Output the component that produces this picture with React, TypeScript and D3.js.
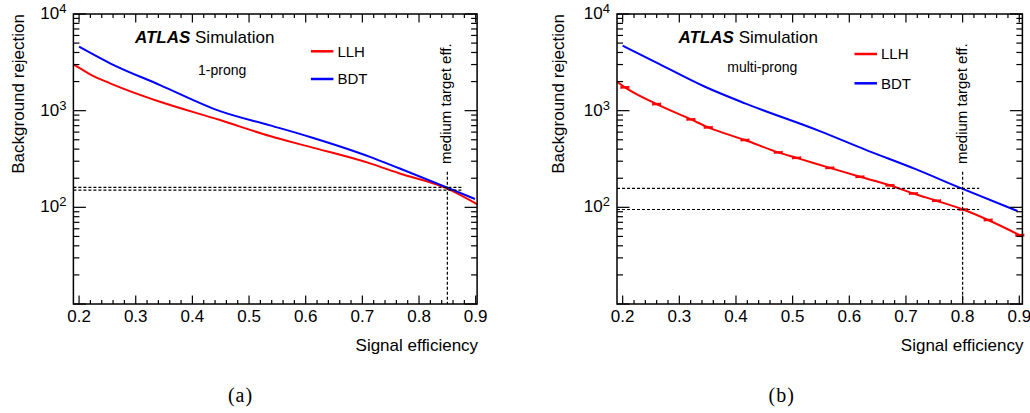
import React from "react";
import * as d3 from "d3";

// ---------- data ----------
// (a) 1-prong
const effLLH1 = [0.19, 0.2018, 0.2194, 0.2547, 0.343, 0.4488, 0.537, 0.6076, 0.7135, 0.766, 0.849, 0.9023];
const rejLLH1 = [3015, 2742, 2380, 1919, 1236, 800, 546, 422, 285, 224, 157, 108];
const effBDT1 = [0.2, 0.2547, 0.343, 0.4488, 0.537, 0.6076, 0.7135, 0.766, 0.849, 0.8988];
const rejBDT1 = [4584, 3090, 1841, 990, 705, 535, 333, 252, 161, 122];
// (b) multi-prong
const effLLH3 = [0.19, 0.204, 0.26, 0.3205, 0.351, 0.4158, 0.4746, 0.507, 0.5657, 0.6188, 0.6717, 0.713, 0.754, 0.801, 0.845, 0.901];
const rejLLH3 = [1991, 1742, 1170, 813, 671, 497, 370, 325, 256, 207, 169, 139, 117, 95, 74, 51.5];
const effBDT3 = [0.2, 0.257, 0.3453, 0.4158, 0.548, 0.628, 0.716, 0.798, 0.897];
const rejBDT3 = [4700, 3200, 1767, 1191, 615, 396, 250, 157, 91.5];

// working points (medium target efficiency) and reference rejections
const targetEff = [0.85, 0.8];
const targetTop = [233, 233];
const refRejA = [161, 151];
const refRejB = [157, 95];
const refEndA = 0.877;
const refEndB = 0.8293;

const xMajor = [0.2, 0.3, 0.4, 0.5, 0.6, 0.7, 0.8, 0.9];
const xLabels = ["0.2", "0.3", "0.4", "0.5", "0.6", "0.7", "0.8", "0.9"];
const yMajor = [10, 100, 1000, 10000];
const yLabelExp = ["", "2", "3", "4"];

const panelLabels = ["(a)", "(b)"];
const regionLabels = ["1-prong", "multi-prong"];
const seriesNames = ["LLH", "BDT"];
const seriesColors = ["#ff0000", "#0000ff"];

const SANS = "'Liberation Sans', Arial, Helvetica, sans-serif";
const SERIF = "'Liberation Serif', 'Times New Roman', serif";

type PanelProps = {
  xr: [number, number];
  xd: [number, number];
  llhE: number[];
  llhR: number[];
  bdtE: number[];
  bdtR: number[];
  markers: boolean;
  target: number;
  tTop: number;
  refs: number[];
  refEnd: number;
  region: string;
  regionX: number;
  regionY: number;
  legY: [number, number];
  label: string;
  labelX: number;
  yTitleX: number;
};

function Panel(p: PanelProps) {
  const top = 14;
  const bottom = 304;
  const x = d3.scaleLinear().domain(p.xd).range(p.xr);
  const y = d3.scaleLog().domain([10, 10000]).range([bottom, top]);
  const line = d3
    .line<[number, number]>()
    .x((d) => x(d[0]))
    .y((d) => y(d[1]))
    .curve(d3.curveMonotoneX);
  const llh: [number, number][] = p.llhE.map((e, i) => [e, p.llhR[i]]);
  const bdt: [number, number][] = p.bdtE.map((e, i) => [e, p.bdtR[i]]);
  const [L, R] = p.xr;

  const xMinor: number[] = [];
  for (let v = 0.2; v <= p.xd[1] + 1e-9; v += 0.02) {
    const r = Math.round(v * 100) / 100;
    if (Math.abs(r * 10 - Math.round(r * 10)) > 1e-6) xMinor.push(r);
  }
  const yMinor: number[] = [];
  for (const dec of [10, 100, 1000]) for (let k = 2; k <= 9; k++) yMinor.push(k * dec);

  const ax = "#000";
  return (
    <g fontFamily={SANS}>
      {/* curves */}
      <path d={line(llh) || ""} fill="none" stroke={seriesColors[0]} strokeWidth={2} />
      <path d={line(bdt) || ""} fill="none" stroke={seriesColors[1]} strokeWidth={2} />
      {p.markers &&
        llh.slice(1).map((d, i) => (
          <g key={i} stroke={seriesColors[0]}>
            <line x1={x(d[0]) - 4} x2={x(d[0]) + 4} y1={y(d[1])} y2={y(d[1])} strokeWidth={2.5} />
            <line x1={x(d[0]) - 4} x2={x(d[0]) - 4} y1={y(d[1]) - 1.5} y2={y(d[1]) + 1.5} strokeWidth={1} />
            <line x1={x(d[0]) + 4} x2={x(d[0]) + 4} y1={y(d[1]) - 1.5} y2={y(d[1]) + 1.5} strokeWidth={1} />
          </g>
        ))}
      {/* reference lines */}
      <line x1={x(p.target)} x2={x(p.target)} y1={y(p.tTop)} y2={bottom} stroke="#000" strokeWidth={1.2} strokeDasharray="3,2" />
      {p.refs.map((r, i) => (
        <line key={i} x1={L} x2={x(p.refEnd)} y1={y(r)} y2={y(r)} stroke="#000" strokeWidth={1.2} strokeDasharray="3,2" />
      ))}
      <text transform={`translate(${x(p.target) + 4},164) rotate(-90)`} fontSize={15}>
        medium target eff.
      </text>
      {/* frame */}
      <rect x={L} y={top} width={R - L} height={bottom - top} fill="none" stroke={ax} strokeWidth={1.5} />
      {/* x ticks */}
      {xMajor.map((v, i) => (
        <g key={"xm" + i}>
          <line x1={x(v)} x2={x(v)} y1={bottom} y2={bottom - 8.5} stroke={ax} strokeWidth={1.2} />
          <line x1={x(v)} x2={x(v)} y1={top} y2={top + 8.5} stroke={ax} strokeWidth={1.2} />
          <text x={x(v)} y={322} fontSize={17} textAnchor="middle">
            {xLabels[i]}
          </text>
        </g>
      ))}
      {xMinor.map((v, i) => (
        <g key={"xn" + i}>
          <line x1={x(v)} x2={x(v)} y1={bottom} y2={bottom - 4} stroke={ax} strokeWidth={1.2} />
          <line x1={x(v)} x2={x(v)} y1={top} y2={top + 4} stroke={ax} strokeWidth={1.2} />
        </g>
      ))}
      {/* y ticks */}
      {yMajor.map((v, i) => (
        <g key={"ym" + i}>
          <line x1={L} x2={L + 12.5} y1={y(v)} y2={y(v)} stroke={ax} strokeWidth={1.2} />
          <line x1={R} x2={R - 12.5} y1={y(v)} y2={y(v)} stroke={ax} strokeWidth={1.2} />
          {yLabelExp[i] && (
            <text x={L - 7} y={y(v) + 5} fontSize={17} textAnchor="end">
              10
              <tspan dy={-6} fontSize={13}>
                {yLabelExp[i]}
              </tspan>
            </text>
          )}
        </g>
      ))}
      {yMinor.map((v, i) => (
        <g key={"yn" + i}>
          <line x1={L} x2={L + 6} y1={y(v)} y2={y(v)} stroke={ax} strokeWidth={1.2} />
          <line x1={R} x2={R - 6} y1={y(v)} y2={y(v)} stroke={ax} strokeWidth={1.2} />
        </g>
      ))}
      {/* axis titles */}
      <text x={R + 1} y={350.5} fontSize={17} textAnchor="end">
        Signal efficiency
      </text>
      <text transform={`translate(${p.yTitleX},14) rotate(-90)`} fontSize={17} textAnchor="end">
        Background rejection
      </text>
      {/* labels */}
      <text x={L + 61.5} y={43} fontSize={17}>
        <tspan fontWeight="bold" fontStyle="italic">
          ATLAS
        </tspan>{" "}
        Simulation
      </text>
      <text x={p.regionX} y={p.regionY} fontSize={14}>
        {p.region}
      </text>
      {/* legend */}
      {seriesNames.map((n, i) => (
        <g key={n}>
          <line x1={L + 237.5} x2={L + 260} y1={p.legY[i]} y2={p.legY[i]} stroke={seriesColors[i]} strokeWidth={2.5} />
          <text x={L + 264} y={p.legY[i] + 5.3} fontSize={15}>
            {n}
          </text>
        </g>
      ))}
      <text x={p.labelX} y={401.5} fontSize={20} fontFamily={SERIF} textAnchor="middle" letterSpacing={1}>
        {p.label}
      </text>
    </g>
  );
}

export default function App() {
  return (
    <svg
      width={1030}
      height={413}
      style={{ position: "absolute", left: 0, top: 0, background: "#fff" }}
    >
      <rect width={1030} height={413} fill="#fff" />
      <Panel
        xr={[73.4, 477.1]}
        xd={[0.19, 0.9025]}
        llhE={effLLH1}
        llhR={rejLLH1}
        bdtE={effBDT1}
        bdtR={rejBDT1}
        markers={false}
        target={targetEff[0]}
        tTop={targetTop[0]}
        refs={refRejA}
        refEnd={refEndA}
        region={regionLabels[0]}
        regionX={198}
        regionY={75}
        legY={[51.3, 79]}
        label={panelLabels[0]}
        labelX={240.5}
        yTitleX={24}
      />
      <Panel
        xr={[617, 1022.4]}
        xd={[0.19, 0.9055]}
        llhE={effLLH3}
        llhR={rejLLH3}
        bdtE={effBDT3}
        bdtR={rejBDT3}
        markers={true}
        target={targetEff[1]}
        tTop={targetTop[1]}
        refs={refRejB}
        refEnd={refEndB}
        region={regionLabels[1]}
        regionX={727.3}
        regionY={71.5}
        legY={[54, 83.3]}
        label={panelLabels[1]}
        labelX={781.7}
        yTitleX={564}
      />
    </svg>
  );
}
